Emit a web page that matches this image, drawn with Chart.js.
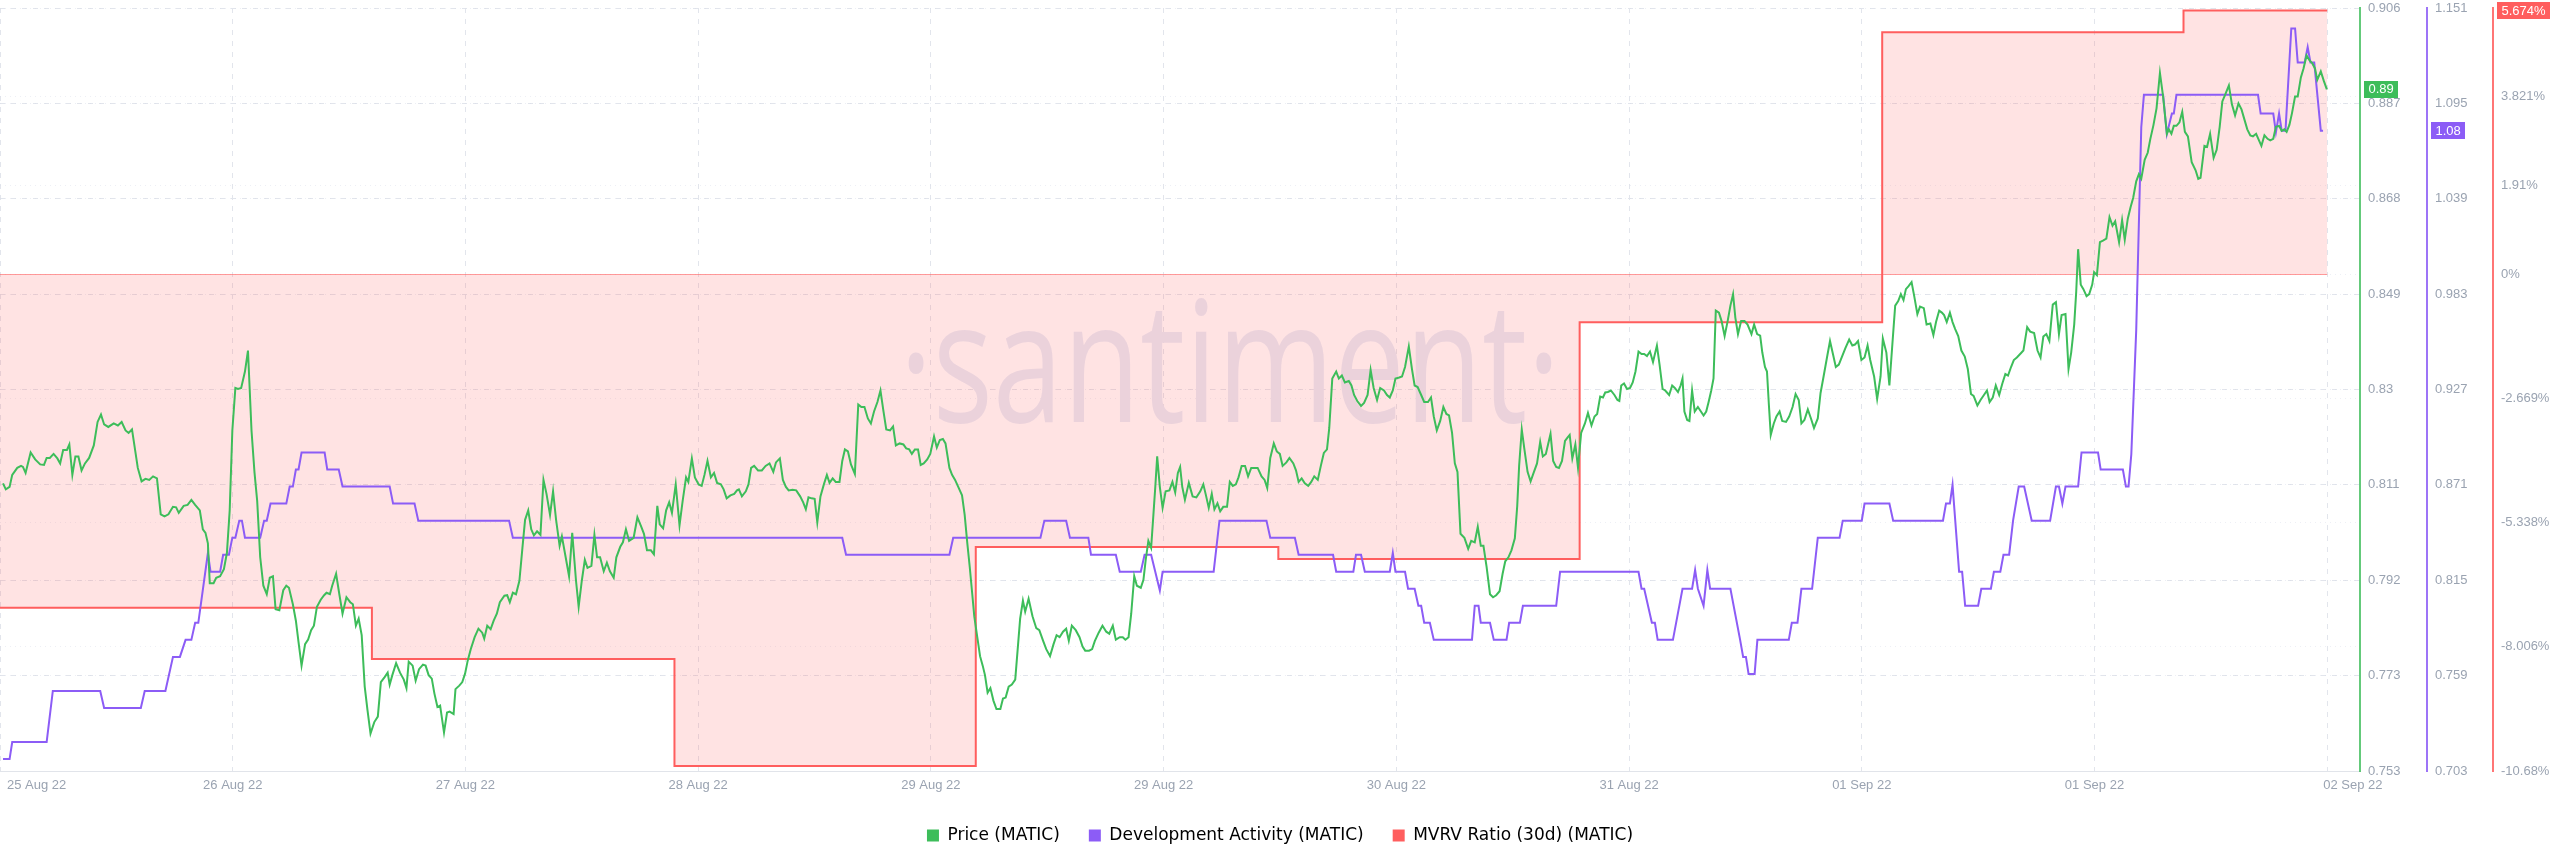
<!DOCTYPE html>
<html><head><meta charset="utf-8">
<script src="https://cdn.jsdelivr.net/npm/chart.js@4.4.1/dist/chart.umd.min.js"></script>
<style>html,body{margin:0;padding:0;background:#fff;}#wrap{width:2560px;height:867px;}</style>
</head><body><div id="wrap"><canvas id="c" width="2560" height="867"></canvas></div>
<script>
// ---- DATA (time in hours from the start of the window) ----
const xTickHours = [0, 18.46, 36.92, 55.38, 73.84, 92.3, 110.76, 129.22, 147.68, 166.14, 184.6];
const xTickLabels = ['25 Aug 22','26 Aug 22','27 Aug 22','28 Aug 22','29 Aug 22','29 Aug 22','30 Aug 22','31 Aug 22','01 Sep 22','01 Sep 22','02 Sep 22'];
const priceTickLabels = ['0.753','0.773','0.792','0.811','0.83','0.849','0.868','0.887','0.906'];
const devTickLabels = ['0.703','0.759','0.815','0.871','0.927','0.983','1.039','1.095','1.151'];
const mvrvTicks = [-10.68, -8.006, -5.338, -2.669, 0, 1.91, 3.821];
const priceRange = [0.7534, 0.9062];
const devRange = [0.703, 1.151];
const mvrvRange = [-10.68, 5.73];
const xRange = [0, 187.2];

const priceSeries = [
[0.24,.8110],[0.46,.8098],[0.76,.8103],[0.97,.8127],[1.37,.8141],[1.67,.8145],[1.82,.8143],[2.03,.8131],[2.43,.8172],[2.79,.8158],
[3.19,.8148],[3.49,.8147],[3.70,.8161],[3.95,.8161],[4.25,.8169],[4.55,.8160],[4.77,.8150],[5.01,.8177],[5.31,.8177],[5.50,.8188],
[5.74,.8127],[5.98,.8164],[6.22,.8164],[6.47,.8136],[6.74,.8150],[7.07,.8161],[7.44,.8186],[7.74,.8233],[8.01,.8248],[8.26,.8228],
[8.59,.8223],[9.02,.8230],[9.35,.8226],[9.65,.8233],[9.96,.8216],[10.20,.8211],[10.47,.8218],[10.93,.8141],[11.23,.8114],[11.54,.8119],
[11.84,.8117],[12.14,.8124],[12.45,.8120],[12.75,.8048],[13.05,.8044],[13.36,.8048],[13.72,.8063],[13.97,.8062],[14.18,.8051],[14.57,.8065],
[14.88,.8067],[15.18,.8077],[15.48,.8067],[15.85,.8056],[16.09,.8018],[16.30,.8011],[16.49,.7990],[16.64,.7910],[16.94,.7910],[17.15,.7921],
[17.46,.7924],[17.76,.7938],[18.00,.7971],[18.22,.8056],[18.43,.8216],[18.67,.8301],[18.88,.8299],[19.13,.8301],[19.43,.8334],[19.67,.8376],
[19.95,.8216],[20.19,.8131],[20.40,.8075],[20.64,.7962],[20.89,.7905],[21.16,.7888],[21.40,.7921],[21.65,.7924],[21.86,.7858],[22.16,.7856],
[22.47,.7896],[22.71,.7905],[22.92,.7901],[23.23,.7868],[23.47,.7835],[23.68,.7792],[23.92,.7745],[24.20,.7788],[24.44,.7797],[24.68,.7816],
[24.90,.7825],[25.14,.7863],[25.44,.7877],[25.71,.7886],[25.90,.7891],[26.17,.7888],[26.35,.7905],[26.66,.7929],[26.93,.7886],[27.17,.7849],
[27.48,.7882],[27.78,.7872],[27.99,.7868],[28.23,.7825],[28.45,.7839],[28.69,.7806],[28.93,.7703],[29.15,.7656],[29.39,.7609],[29.69,.7632],
[29.97,.7643],[30.21,.7712],[30.51,.7722],[30.75,.7731],[30.91,.7707],[31.12,.7726],[31.42,.7750],[31.73,.7731],[32.03,.7717],[32.24,.7700],
[32.42,.7753],[32.73,.7745],[32.97,.7715],[33.24,.7738],[33.55,.7747],[33.76,.7745],[34.00,.7726],[34.25,.7719],[34.46,.7689],[34.70,.7662],
[34.91,.7665],[35.22,.7611],[35.46,.7651],[35.67,.7653],[35.98,.7648],[36.13,.7698],[36.43,.7705],[36.67,.7712],[36.89,.7729],[37.10,.7755],
[37.34,.7778],[37.65,.7802],[37.95,.7819],[38.25,.7811],[38.41,.7799],[38.65,.7825],[38.92,.7818],[39.16,.7835],[39.41,.7849],[39.65,.7872],
[40.01,.7885],[40.23,.7886],[40.44,.7872],[40.68,.7891],[40.93,.7888],[41.20,.7915],[41.44,.7981],[41.65,.8037],[41.90,.8056],[42.14,.8018],
[42.35,.8006],[42.60,.8014],[42.87,.8007],[43.11,.8117],[43.35,.8089],[43.63,.8047],[43.87,.8094],[44.11,.8037],[44.39,.7985],[44.57,.8004],
[44.87,.7962],[45.14,.7924],[45.39,.8011],[45.69,.7915],[45.90,.7863],[46.15,.7915],[46.39,.7957],[46.60,.7941],[46.91,.7945],[47.15,.8007],
[47.36,.7962],[47.60,.7962],
[47.89,.7934],[48.14,.7951],[48.38,.7934],[48.68,.7921],[48.89,.7962],[49.20,.7983],[49.41,.7992],[49.65,.8018],[49.90,.7995],[50.26,.8001],
[50.56,.8042],[50.87,.8023],[51.08,.8009],[51.32,.7976],[51.63,.7976],[51.87,.7968],[52.14,.8065],[52.33,.8028],[52.60,.8020],[52.84,.8056],
[53.08,.8072],[53.30,.8051],[53.60,.8108],[53.90,.8026],[54.15,.8075],[54.42,.8122],[54.60,.8113],[54.88,.8160],[55.12,.8122],[55.42,.8108],
[55.66,.8105],[55.88,.8127],[56.12,.8155],[56.39,.8122],[56.64,.8131],[56.88,.8111],[57.18,.8108],[57.40,.8098],[57.64,.8080],[57.94,.8086],
[58.24,.8089],[58.46,.8096],[58.61,.8098],[58.85,.8084],[59.16,.8094],[59.37,.8108],[59.58,.8141],[59.82,.8145],[60.13,.8136],[60.43,.8136],
[60.73,.8145],[61.04,.8150],[61.34,.8133],[61.55,.8152],[61.86,.8160],[62.10,.8117],[62.34,.8103],[62.56,.8096],[62.86,.8097],[63.16,.8096],
[63.47,.8084],[63.71,.8072],[63.92,.8058],[64.13,.8082],[64.38,.8080],[64.62,.8079],[64.83,.8032],[65.08,.8084],[65.35,.8108],[65.59,.8127],
[65.80,.8111],[66.05,.8120],[66.29,.8113],[66.59,.8113],[66.81,.8155],[67.02,.8178],[67.26,.8174],[67.50,.8148],[67.81,.8129],[68.08,.8268],
[68.32,.8263],[68.57,.8263],[68.84,.8240],[69.08,.8230],[69.33,.8254],[69.60,.8273],[69.84,.8296],[70.08,.8254],[70.30,.8218],[70.60,.8216],
[70.84,.8224],[71.06,.8186],[71.36,.8190],[71.66,.8188],[71.88,.8180],[72.12,.8178],[72.33,.8169],[72.57,.8178],[72.82,.8178],[73.03,.8147],
[73.27,.8150],[73.55,.8158],[73.79,.8169],[74.09,.8204],[74.31,.8182],[74.55,.8197],[74.79,.8199],[75.00,.8190],[75.31,.8141],[75.52,.8127],
[75.76,.8117],[76.01,.8103],[76.31,.8086],[76.52,.8047],[76.73,.7990],[76.92,.7943],[77.13,.7886],[77.28,.7844],[77.52,.7802],[77.74,.7764],
[77.95,.7745],[78.13,.7726],[78.34,.7691],[78.56,.7700],[78.80,.7675],[79.04,.7658],[79.35,.7658],[79.56,.7679],[79.77,.7681],[80.01,.7703],
[80.26,.7707],[80.53,.7717],[80.77,.7792],[80.92,.7839],[81.14,.7875],[81.32,.7853],[81.59,.7879],[81.90,.7844],[82.20,.7820],[82.44,.7816],
[82.75,.7794],[82.99,.7778],[83.29,.7764],[83.57,.7788],[83.81,.7806],[84.05,.7802],[84.32,.7813],[84.57,.7819],[84.78,.7795],[85.02,.7825],
[85.33,.7816],[85.63,.7802],[85.87,.7783],[86.08,.7775],[86.39,.7775],[86.63,.7778],[86.84,.7794],[87.15,.7811],[87.45,.7825],[87.75,.7813],
[87.99,.7809],[88.27,.7825],[88.51,.7797],[88.82,.7802],[89.06,.7802],[89.27,.7797],[89.52,.7802],[89.73,.7849],[89.97,.7924],[90.18,.7905],
[90.49,.7901],[90.70,.7917],[90.88,.7957],[91.09,.7995],[91.31,.7981],[91.49,.8047],[91.64,.8103],[91.79,.8164],[92.00,.8103],[92.22,.8061],
[92.46,.8094],[92.76,.8096],[93.00,.8113],[93.22,.8092],[93.43,.8131],[93.61,.8143],
[93.78,.8103],[93.99,.8077],[94.30,.8111],[94.60,.8084],[94.90,.8082],[95.21,.8094],[95.45,.8108],[95.66,.8086],[95.88,.8061],[96.12,.8089],
[96.33,.8058],[96.57,.8070],[96.79,.8054],[97.03,.8063],[97.33,.8063],[97.55,.8113],[97.79,.8105],[98.03,.8108],[98.24,.8122],[98.49,.8145],
[98.76,.8145],[99.00,.8124],[99.25,.8141],[99.76,.8141],[100.07,.8124],[100.31,.8117],[100.52,.8101],[100.76,.8161],[101.04,.8190],[101.28,.8174],
[101.52,.8169],[101.74,.8145],[102.04,.8152],[102.28,.8161],[102.59,.8150],[102.80,.8136],[103.01,.8113],[103.25,.8120],[103.50,.8110],[103.77,.8105],
[104.01,.8113],[104.25,.8124],[104.53,.8117],[104.77,.8145],[105.01,.8171],[105.26,.8178],[105.44,.8221],[105.68,.8320],[105.99,.8334],[106.20,.8320],
[106.44,.8326],[106.68,.8312],[106.99,.8315],[107.20,.8306],[107.41,.8287],[107.66,.8275],[107.96,.8265],[108.20,.8271],[108.48,.8287],[108.72,.8337],
[108.96,.8301],[109.23,.8277],[109.48,.8301],[109.78,.8296],[110.02,.8287],[110.24,.8282],[110.48,.8296],[110.69,.8320],[110.99,.8322],[111.21,.8324],
[111.45,.8343],[111.75,.8384],[112.00,.8339],[112.21,.8306],[112.45,.8303],[112.73,.8287],[112.97,.8273],[113.27,.8273],[113.51,.8282],[113.73,.8244],
[113.97,.8216],[114.24,.8235],[114.49,.8263],[114.73,.8249],[114.94,.8246],[115.18,.8211],[115.40,.8150],[115.61,.8133],[115.85,.8009],[116.16,.8001],
[116.46,.7979],[116.70,.7995],[116.98,.7992],[117.22,.8023],[117.46,.7985],[117.67,.7985],[117.92,.7943],[118.19,.7888],[118.43,.7882],[118.68,.7886],
[118.95,.7894],[119.19,.7929],[119.40,.7954],[119.65,.7962],[119.89,.7976],[120.16,.8000],[120.35,.8065],[120.50,.8145],[120.71,.8218],[120.92,.8178],
[121.17,.8133],[121.41,.8114],[121.62,.8129],[121.92,.8150],[122.17,.8193],[122.38,.8164],[122.62,.8169],[122.84,.8193],[122.99,.8209],[123.20,.8155],
[123.44,.8143],[123.66,.8141],[123.90,.8155],[124.14,.8195],[124.35,.8202],[124.51,.8207],[124.72,.8160],[124.96,.8188],[125.17,.8141],[125.42,.8211],
[125.72,.8230],[125.96,.8251],[126.24,.8226],[126.48,.8244],[126.69,.8249],[126.93,.8284],[127.15,.8282],[127.33,.8292],[127.54,.8293],[127.78,.8296],
[128.06,.8287],[128.30,.8277],[128.45,.8275],[128.60,.8306],[128.82,.8310],[129.06,.8299],[129.30,.8301],[129.51,.8312],[129.73,.8334],[129.97,.8374],
[130.21,.8369],[130.42,.8369],[130.64,.8365],[130.88,.8374],[131.12,.8353],[131.43,.8386],[131.64,.8348],[131.88,.8299],[132.09,.8296],[132.40,.8287],
[132.64,.8306],[132.85,.8301],[133.10,.8293],[133.31,.8306],[133.46,.8320],[133.61,.8254],[133.83,.8237],[134.01,.8235],[134.22,.8296],[134.43,.8254],
[134.68,.8263],[134.92,.8254],[135.13,.8246],[135.34,.8254],[135.53,.8273],[135.74,.8296],[135.92,.8320],[136.10,.8456],[136.35,.8452],[136.56,.8435],
[136.80,.8405],[137.04,.8435],[137.26,.8466],[137.47,.8489],[137.65,.8442],[137.86,.8409],[138.11,.8435],[138.38,.8435],[138.62,.8428],[138.93,.8409],
[139.14,.8428],[139.38,.8409],[139.62,.8406],
[139.79,.8372],[140.00,.8343],[140.16,.8334],[140.31,.8268],[140.46,.8207],[140.70,.8230],[140.91,.8244],[141.16,.8254],[141.37,.8235],[141.67,.8233],
[141.92,.8244],[142.19,.8263],[142.43,.8289],[142.68,.8277],[142.89,.8230],[143.13,.8237],[143.40,.8258],[143.65,.8240],[143.89,.8221],[144.19,.8240],
[144.41,.8291],[144.65,.8324],[144.92,.8362],[145.16,.8395],[145.41,.8367],[145.62,.8343],[145.86,.8348],[146.08,.8362],[146.38,.8381],[146.68,.8398],
[146.93,.8386],[147.14,.8388],[147.38,.8395],[147.65,.8357],[147.90,.8362],[148.14,.8386],[148.35,.8357],[148.66,.8324],[148.90,.8279],[149.17,.8324],
[149.35,.8400],[149.63,.8372],[149.87,.8306],[150.11,.8390],[150.33,.8466],[150.57,.8475],[150.78,.8489],[150.99,.8477],[151.18,.8499],[151.39,.8505],
[151.63,.8513],[151.84,.8485],[152.09,.8449],[152.30,.8464],[152.60,.8461],[152.82,.8428],[153.12,.8430],[153.36,.8407],[153.57,.8433],[153.82,.8456],
[154.03,.8452],[154.21,.8447],[154.42,.8433],[154.67,.8452],[154.88,.8433],[155.09,.8419],[155.33,.8405],[155.58,.8376],[155.85,.8364],[156.09,.8339],
[156.34,.8289],[156.55,.8285],[156.85,.8266],[157.10,.8277],[157.37,.8287],[157.61,.8296],[157.82,.8273],[158.07,.8282],[158.31,.8306],[158.58,.8287],
[158.83,.8310],[159.07,.8329],[159.28,.8326],[159.52,.8343],[159.74,.8357],[159.98,.8362],[160.28,.8370],[160.50,.8376],[160.80,.8423],[161.04,.8414],
[161.35,.8411],[161.62,.8376],[161.86,.8362],[162.08,.8404],[162.32,.8409],[162.56,.8395],[162.83,.8468],[163.08,.8473],[163.32,.8409],[163.53,.8447],
[163.84,.8449],[164.08,.8339],[164.29,.8372],[164.53,.8428],[164.69,.8494],[164.84,.8579],[165.05,.8508],[165.26,.8499],[165.51,.8485],[165.72,.8489],
[165.96,.8508],[166.11,.8533],[166.33,.8527],[166.57,.8593],[166.81,.8596],[167.08,.8600],[167.33,.8643],[167.57,.8626],[167.78,.8635],[168.09,.8593],
[168.33,.8637],[168.54,.8598],[168.78,.8640],[169.00,.8663],[169.21,.8682],[169.45,.8715],[169.66,.8729],[169.85,.8720],[170.12,.8758],[170.36,.8772],
[170.57,.8800],[170.82,.8828],[171.06,.8861],[171.33,.8932],[171.58,.8885],[171.88,.8810],[172.03,.8819],[172.24,.8810],[172.43,.8826],[172.64,.8826],
[172.88,.8833],[173.10,.8854],[173.31,.8814],[173.55,.8805],[173.85,.8753],[174.16,.8737],[174.37,.8720],[174.55,.8722],[174.86,.8786],[175.07,.8784],
[175.31,.8810],[175.59,.8762],[175.83,.8778],[176.07,.8824],[176.28,.8875],[176.53,.8890],[176.80,.8907],[177.04,.8869],[177.29,.8847],[177.56,.8871],
[177.80,.8859],[178.04,.8838],[178.26,.8819],[178.50,.8807],[178.71,.8805],[178.96,.8810],[179.17,.8798],[179.38,.8786],[179.62,.8807],[179.87,.8800],
[180.08,.8797],[180.32,.8800],[180.53,.8824],[180.78,.8826],[180.99,.8816],[181.20,.8819],[181.38,.8814],[181.60,.8828],[181.81,.8852],[182.05,.8885],
[182.26,.8885],[182.51,.8923],[182.72,.8941],[182.96,.8967],[183.20,.8957],[183.42,.8951],[183.63,.8941],[183.81,.8918],[184.09,.8935],[184.33,.8916],
[184.57,.8899]
];

const devHours = [
0.24,0.76,0.97,3.70,4.19,7.95,8.26,11.17,11.48,13.12,
13.72,14.27,14.72,15.18,15.48,15.73,16.49,16.70,17.46,17.70,
18.16,18.43,18.67,18.98,19.19,19.43,20.64,20.95,21.16,21.46,
22.71,22.98,23.23,23.47,23.68,23.92,25.75,25.96,26.87,27.17,
30.91,31.18,32.88,33.18,40.38,40.68,66.81,67.11,75.31,75.61,
82.53,82.84,84.57,84.87,86.33,86.54,88.51,88.82,90.49,90.79,
91.31,92.00,92.22,96.27,96.73,100.46,100.76,102.71,103.01,105.74,
105.99,107.35,107.56,107.96,108.26,110.24,110.48,110.69,111.45,111.69,
112.21,112.51,112.73,112.97,113.42,113.73,116.76,116.98,117.28,117.46,
118.19,118.49,119.50,119.71,120.56,120.80,123.44,123.75,129.97,130.21,
130.42,131.03,131.27,131.49,132.70,133.46,134.22,134.46,134.68,135.13,
135.43,135.65,137.26,138.03,138.27,138.49,138.70,139.18,139.40,141.89,
142.13,142.58,142.89,143.74,144.19,145.92,146.17,147.68,147.90,149.87,
150.17,154.12,154.36,154.67,154.88,155.40,155.64,155.88,156.91,157.16,
157.92,158.16,158.67,158.92,159.37,159.68,160.13,160.56,161.16,162.62,
163.08,163.32,163.59,163.84,164.84,165.11,166.42,166.63,168.39,168.63,
168.84,169.06,169.45,169.85,170.06,171.58,171.88,172.28,172.43,172.64,
179.11,179.32,180.32,180.53,180.78,180.99,181.29,181.75,182.05,182.26,
182.81,183.05,183.27,183.57,184.09,184.27];
const devValues = [
0.71,0.71,0.72,0.72,0.75,0.75,0.74,0.74,0.75,0.75,
0.77,0.77,0.78,0.78,0.79,0.79,0.831,0.82,0.82,0.83,
0.83,0.84,0.84,0.85,0.85,0.84,0.84,0.85,0.85,0.86,
0.86,0.87,0.87,0.88,0.88,0.89,0.89,0.88,0.88,0.87,
0.87,0.86,0.86,0.85,0.85,0.84,0.84,0.83,0.83,0.84,
0.84,0.85,0.85,0.84,0.84,0.83,0.83,0.82,0.82,0.83,
0.83,0.809,0.82,0.82,0.85,0.85,0.84,0.84,0.83,0.83,
0.82,0.82,0.83,0.83,0.82,0.82,0.831,0.82,0.82,0.81,
0.81,0.80,0.80,0.79,0.79,0.78,0.78,0.80,0.80,0.79,
0.79,0.78,0.78,0.79,0.79,0.80,0.80,0.82,0.82,0.81,
0.81,0.79,0.79,0.78,0.78,0.81,0.81,0.821,0.81,0.80,
0.821,0.81,0.81,0.78,0.77,0.77,0.76,0.76,0.78,0.78,
0.79,0.79,0.81,0.81,0.84,0.84,0.85,0.85,0.86,0.86,
0.85,0.85,0.86,0.86,0.871,0.82,0.82,0.80,0.80,0.81,
0.81,0.82,0.82,0.83,0.83,0.85,0.87,0.87,0.85,0.85,
0.87,0.87,0.86,0.87,0.87,0.89,0.89,0.88,0.88,0.87,
0.87,0.889,0.962,1.081,1.10,1.10,1.077,1.089,1.089,1.10,
1.10,1.089,1.089,1.078,1.089,1.079,1.079,1.139,1.139,1.119,
1.119,1.128,1.119,1.119,1.079,1.079];

// MVRV (30d) in %, daily value, held until the next change
const mvrvHours  = [0, 29.5, 53.5, 77.4, 101.4, 125.3, 149.3, 173.2, 184.6];
const mvrvValues = [-7.17, -8.27, -10.57, -5.86, -6.12, -1.03, 5.21, 5.674, 5.674];

// ---- STYLE ----
const GREEN = '#3dbd5a', PURPLE = '#8c5cf6', RED = '#ff5e5e';
const TICK = '#9aa3b1', GRID = '#e2e5ec';
const FONT = '"Liberation Sans", Arial, sans-serif';

const watermark = {
  id: 'watermark',
  beforeDatasetsDraw(chart) {
    const {ctx, chartArea, scales} = chart;
    ctx.save();
    ctx.font = '168px "Open Sans"';
    ctx.fillStyle = 'rgb(231,235,246)';
    ctx.textAlign = 'center';
    ctx.textBaseline = 'alphabetic';
    const txt = '\u00B7santiment\u00B7';
    const w = ctx.measureText(txt).width;
    ctx.translate(chartArea.left + 1230, chartArea.top + 414);
    ctx.scale(661 / w, 1);
    ctx.fillText(txt, 0, 0);
    ctx.restore();
    // zero line of the MVRV axis
    const y0 = scales.yM.getPixelForValue(0);
    const xEnd = scales.x.getPixelForValue(mvrvHours[mvrvHours.length - 1]);
    ctx.save();
    ctx.strokeStyle = 'rgba(255,94,94,0.6)';
    ctx.lineWidth = 1;
    ctx.beginPath(); ctx.moveTo(chartArea.left, Math.round(y0) + 0.5); ctx.lineTo(xEnd, Math.round(y0) + 0.5); ctx.stroke();
    ctx.restore();
  }
};

const extras = {
  id: 'extras',
  afterDraw(chart) {
    const {ctx, chartArea, scales} = chart;
    ctx.save();
    ctx.font = '13px ' + FONT;
    ctx.fillStyle = TICK;
    ctx.textBaseline = 'middle';
    xTickHours.forEach((h, k) => {
      const px = scales.x.getPixelForValue(h);
      if (k === 0) { ctx.textAlign = 'left'; ctx.fillText(xTickLabels[k], px + 7, chartArea.bottom + 14); }
      else if (k === xTickHours.length - 1) { ctx.textAlign = 'left'; ctx.fillText(xTickLabels[k], px - 4, chartArea.bottom + 14); }
      else { ctx.textAlign = 'center'; ctx.fillText(xTickLabels[k], px, chartArea.bottom + 14); }
    });
    ctx.restore();
    const boxes = [
      {scale: scales.yP, v: priceSeries[priceSeries.length - 1][1], txt: priceSeries[priceSeries.length - 1][1].toFixed(2), color: GREEN},
      {scale: scales.yD, v: devValues[devValues.length - 1], txt: devValues[devValues.length - 1].toFixed(2), color: PURPLE},
      {scale: scales.yM, v: mvrvValues[mvrvValues.length - 1], txt: mvrvValues[mvrvValues.length - 1].toFixed(3) + '%', color: RED}
    ];
    ctx.save();
    ctx.font = '13px ' + FONT;
    boxes.forEach(b => {
      const y = b.scale.getPixelForValue(b.v);
      const tw = ctx.measureText(b.txt).width;
      const x0 = b.scale.left + 4;
      ctx.fillStyle = b.color;
      ctx.fillRect(x0, Math.round(y - 8.5), Math.round(tw + 9), 17);
      ctx.fillStyle = '#ffffff';
      ctx.textAlign = 'left';
      ctx.textBaseline = 'middle';
      ctx.fillText(b.txt, x0 + 4.5, y + 0.5);
    });
    ctx.restore();
  }
};

function evenTicks(labels) {
  return s => { const n = labels.length - 1; s.ticks = labels.map((_, k) => ({value: s.min + k * (s.max - s.min) / n})); };
}
function fixWidth(w) {
  return s => { s.width = w; s.paddingTop = 0; s.paddingBottom = 0; };
}

new Chart(document.getElementById('c'), {
  type: 'line',
  data: {
    datasets: [
      {label: 'Price (MATIC)', data: priceSeries.map(p => ({x: p[0], y: p[1]})), yAxisID: 'yP',
       borderColor: GREEN, backgroundColor: GREEN, borderWidth: 2, pointRadius: 0, tension: 0, fill: false},
      {label: 'Development Activity (MATIC)', data: devHours.map((h, i) => ({x: h, y: devValues[i]})), yAxisID: 'yD',
       borderColor: PURPLE, backgroundColor: PURPLE, borderWidth: 2, pointRadius: 0, tension: 0, fill: false},
      {label: 'MVRV Ratio (30d) (MATIC)', data: mvrvHours.map((h, i) => ({x: h, y: mvrvValues[i]})), yAxisID: 'yM',
       borderColor: RED, backgroundColor: 'rgba(255,95,95,0.175)', borderWidth: 2, pointRadius: 0, stepped: true, fill: {value: 0}}
    ]
  },
  options: {
    responsive: false, animation: false, devicePixelRatio: 1,
    layout: {autoPadding: false, padding: {top: 8, right: 0, bottom: 13, left: 0}},
    plugins: {
      tooltip: {enabled: false},
      legend: {
        position: 'bottom',
        labels: {
          boxWidth: 12, boxHeight: 12, padding: 29, color: '#353a45',
          font: {family: '"DejaVu Sans", sans-serif', size: 17},
          generateLabels(chart) {
            return chart.data.datasets.map((d, i) => ({text: d.label, fillStyle: d.borderColor, strokeStyle: d.borderColor, lineWidth: 0, datasetIndex: i, hidden: false}));
          }
        }
      }
    },
    scales: {
      x: {type: 'linear', min: xRange[0], max: xRange[1],
          afterBuildTicks: s => { s.ticks = xTickHours.map(v => ({value: v})); },
          ticks: {display: false},
          grid: {color: GRID, drawTicks: false},
          border: {display: true, color: '#e1e4ea', width: 1, dash: [5, 6]},
          afterFit: s => { s.height = 27; }},
      yP: {position: 'right', weight: 0, min: priceRange[0], max: priceRange[1],
           afterBuildTicks: evenTicks(priceTickLabels),
           ticks: {callback: (v, i) => priceTickLabels[i], color: TICK, font: {family: FONT, size: 13}, padding: 8},
           grid: {color: GRID, drawTicks: false},
           border: {display: true, color: 'rgba(61,189,90,0.8)', width: 2, dash: [5, 6]},
           afterFit: fixWidth(67)},
      yD: {position: 'right', weight: 1, min: devRange[0], max: devRange[1],
           afterBuildTicks: evenTicks(devTickLabels),
           ticks: {callback: (v, i) => devTickLabels[i], color: TICK, font: {family: FONT, size: 13}, padding: 8},
           grid: {color: 'rgba(215,220,232,0.45)', drawTicks: false},
           border: {display: true, color: 'rgba(140,92,246,0.85)', width: 2, dash: [1, 4]},
           afterFit: fixWidth(66)},
      yM: {position: 'right', weight: 2, min: mvrvRange[0], max: mvrvRange[1],
           afterBuildTicks: s => { s.ticks = mvrvTicks.map(v => ({value: v})); },
           ticks: {callback: v => v + '%', color: TICK, font: {family: FONT, size: 13}, padding: 8},
           grid: {color: 'rgba(215,220,232,0.45)', drawTicks: false},
           border: {display: true, color: 'rgba(255,94,94,0.85)', width: 2, dash: [1, 4]},
           afterFit: fixWidth(67)}
    }
  },
  plugins: [watermark, extras]
});
</script>
</body></html>
